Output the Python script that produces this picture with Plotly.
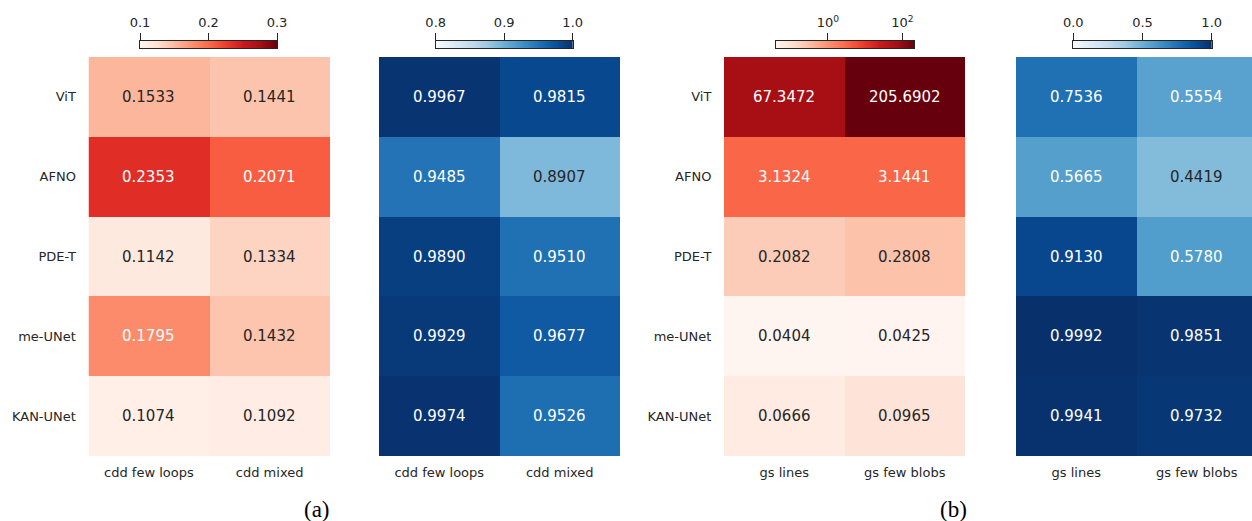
import numpy as np
import plotly.graph_objects as go

# ---------------- data ----------------
models = ["ViT", "AFNO", "PDE-T", "me-UNet", "KAN-UNet"]
cdd_cols = ["cdd few loops", "cdd mixed"]
gs_cols = ["gs lines", "gs few blobs"]

cdd_red = [[0.1533, 0.1441],
           [0.2353, 0.2071],
           [0.1142, 0.1334],
           [0.1795, 0.1432],
           [0.1074, 0.1092]]
cdd_blue = [[0.9967, 0.9815],
            [0.9485, 0.8907],
            [0.9890, 0.9510],
            [0.9929, 0.9677],
            [0.9974, 0.9526]]
gs_red = [[67.3472, 205.6902],
          [3.1324, 3.1441],
          [0.2082, 0.2808],
          [0.0404, 0.0425],
          [0.0666, 0.0965]]
gs_blue = [[0.7536, 0.5554],
           [0.5665, 0.4419],
           [0.9130, 0.5780],
           [0.9992, 0.9851],
           [0.9941, 0.9732]]

cbar_ticks_1 = [0.1, 0.2, 0.3]
cbar_ticks_2 = [0.8, 0.9, 1.0]
cbar_ticks_3 = [0, 2]
cbar_ticktext_3 = ["10<sup>0</sup>", "10<sup>2</sup>"]
cbar_ticks_4 = [0.0, 0.5, 1.0]

# ---------------- styles ----------------
REDS = ["#fff5f0", "#fee0d2", "#fcbba1", "#fc9272", "#fb6a4a",
        "#ef3b2c", "#cb181d", "#a50f15", "#67000d"]
BLUES = ["#f7fbff", "#deebf7", "#c6dbef", "#9ecae1", "#6baed6",
         "#4292c6", "#2171b5", "#08519c", "#08306b"]
TXT = "#262626"
FONT = "DejaVu Sans"
W, H = 1252, 521


def scale(cols):
    n = len(cols) - 1
    return [[i / n, c] for i, c in enumerate(cols)]


def hex2rgb(h):
    h = h.lstrip("#")
    return np.array([int(h[i:i + 2], 16) for i in (0, 2, 4)], float)


def color_at(cols, f):
    f = min(max(f, 0.0), 1.0)
    n = len(cols) - 1
    i = min(int(f * n), n - 1)
    t = f * n - i
    return hex2rgb(cols[i]) * (1 - t) + hex2rgb(cols[i + 1]) * t


def text_color(cols, f):
    rgb = color_at(cols, f) / 255.0
    lin = np.where(rgb <= 0.03928, rgb / 12.92, ((rgb + 0.055) / 1.055) ** 2.4)
    lum = 0.2126 * lin[0] + 0.7152 * lin[1] + 0.0722 * lin[2]
    return TXT if lum > 0.408 else "white"


fig = go.Figure()

hm_y = [65 / H, 464 / H]
cb_y = [473 / H, 480.5 / H]

panels = [
    dict(z=cdd_red, cols=cdd_cols, cmap=REDS, zmin=0.1, zmax=0.3, log=False,
         xd=[88.5 / W, 330 / W], cbx=[140 / W, 277 / W], ticks=cbar_ticks_1,
         ticktext=None, ylab=True, xr=None),
    dict(z=cdd_blue, cols=cdd_cols, cmap=BLUES, zmin=0.8, zmax=1.0, log=False,
         xd=[379 / W, 620 / W], cbx=[435.7 / W, 572.7 / W], ticks=cbar_ticks_2,
         ticktext=None, ylab=False, xr=None),
    dict(z=gs_red, cols=gs_cols, cmap=REDS, zmin=None, zmax=None, log=True,
         xd=[724 / W, 965 / W], cbx=[776 / W, 914 / W], ticks=cbar_ticks_3,
         ticktext=cbar_ticktext_3, ylab=True, xr=None),
    dict(z=gs_blue, cols=gs_cols, cmap=BLUES, zmin=0.0, zmax=1.0, log=False,
         xd=[1016 / W, 1.0], cbx=[1073.3 / W, 1211.7 / W], ticks=cbar_ticks_4,
         ticktext=None, ylab=False, xr=[-0.5, -0.5 + (W - 1016) / 120.5]),
]

annotations = []
layout_axes = {}
for k, p in enumerate(panels):
    hi = k + 1
    ci = k + 5
    zraw = np.array(p["z"], float)
    if p["log"]:
        zc = np.log10(zraw)
        zmin, zmax = zc.min(), zc.max()
    else:
        zc = zraw
        zmin, zmax = p["zmin"], p["zmax"]

    fig.add_trace(go.Heatmap(
        z=zc, x=p["cols"], y=models, colorscale=scale(p["cmap"]),
        zmin=zmin, zmax=zmax, showscale=False,
        xaxis=f"x{hi}", yaxis=f"y{hi}", hoverinfo="skip"))

    for r, m in enumerate(models):
        for c, col in enumerate(p["cols"]):
            f = (zc[r, c] - zmin) / (zmax - zmin)
            annotations.append(dict(
                x=col, y=m, xref=f"x{hi}", yref=f"y{hi}",
                text=f"{zraw[r, c]:.4f}", showarrow=False,
                font=dict(family=FONT, size=15, color=text_color(p["cmap"], f))))

    xa = dict(domain=p["xd"], anchor=f"y{hi}", showgrid=False, zeroline=False,
              automargin=False,
              ticks="outside", ticklen=4, tickcolor="rgba(0,0,0,0)",
              tickfont=dict(family=FONT, size=13, color=TXT), showline=False)
    if p["xr"] is not None:
        xa["range"] = p["xr"]
    ya = dict(domain=hm_y, anchor=f"x{hi}", showgrid=False, zeroline=False,
              automargin=False,
              autorange="reversed", showline=False,
              showticklabels=p["ylab"], ticks="outside", ticklen=9,
              tickcolor="rgba(0,0,0,0)",
              tickfont=dict(family=FONT, size=13, color=TXT))
    layout_axes[f"xaxis{hi}"] = xa
    layout_axes[f"yaxis{hi}"] = ya

    # colour bar drawn as a thin heatmap
    grad = np.linspace(zmin, zmax, 256)
    fig.add_trace(go.Heatmap(
        z=[grad], x=grad, y=[0], colorscale=scale(p["cmap"]),
        zmin=zmin, zmax=zmax, showscale=False,
        xaxis=f"x{ci}", yaxis=f"y{ci}", hoverinfo="skip"))
    cxa = dict(domain=p["cbx"], anchor=f"y{ci}", range=[zmin, zmax],
               side="top", showgrid=False, zeroline=False, automargin=False,
               showline=True, mirror=True, linecolor=TXT, linewidth=1,
               ticks="outside", ticklen=7, tickwidth=1, tickcolor=TXT,
               tickvals=p["ticks"],
               tickfont=dict(family=FONT, size=13, color=TXT))
    if p["ticktext"] is not None:
        cxa["ticktext"] = p["ticktext"]
    else:
        cxa["ticktext"] = [f"{t:.1f}" for t in p["ticks"]]
    cya = dict(domain=cb_y, anchor=f"x{ci}", range=[-0.5, 0.5], automargin=False,
               showgrid=False, zeroline=False, showticklabels=False,
               showline=True, mirror=True, linecolor=TXT, linewidth=1, ticks="")
    layout_axes[f"xaxis{ci}"] = cxa
    layout_axes[f"yaxis{ci}"] = cya

for lbl, xc in (("(a)", 317), ("(b)", 953)):
    annotations.append(dict(x=xc / W, y=(H - 509.5) / H, xref="paper", yref="paper",
                            xanchor="center", yanchor="middle",
                            text=lbl, showarrow=False,
                            font=dict(family="Liberation Serif", size=23, color="black")))

fig.update_layout(
    width=W, height=H, margin=dict(l=0, r=0, t=0, b=0, pad=0),
    paper_bgcolor="white", plot_bgcolor="white",
    showlegend=False, annotations=annotations, **layout_axes)

fig.write_html("out.html", config={"displayModeBar": False},
               post_script="document.body.style.margin='0';"
                           "document.body.style.overflow='hidden';"
                           "document.documentElement.style.overflow='hidden';")
